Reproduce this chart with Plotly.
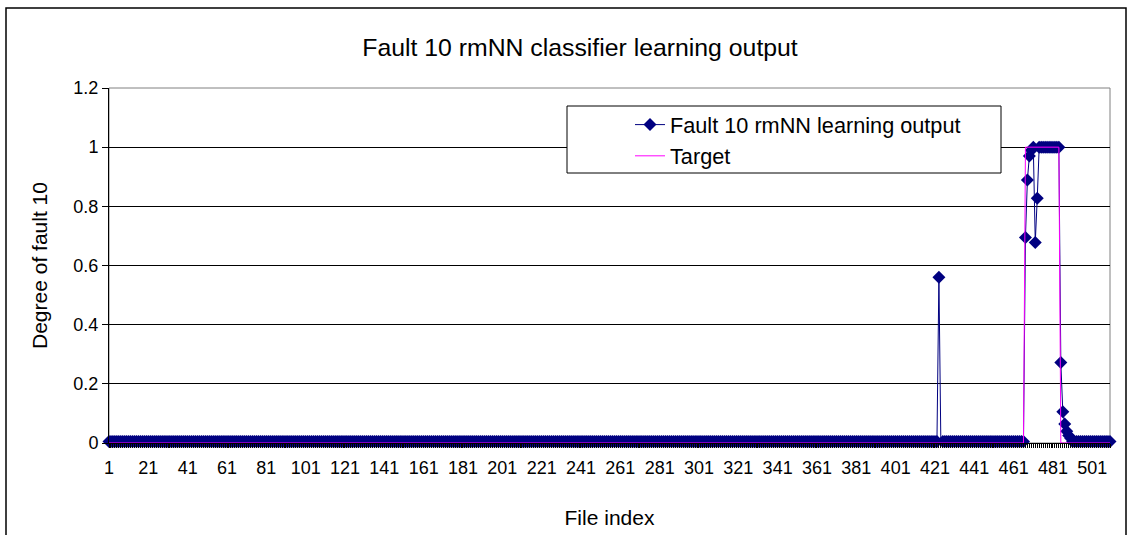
import plotly.graph_objects as go

# file indices 1..510
n_files = 510
file_index = list(range(1, n_files + 1))

# classifier learning output (flat runs near zero)
base = 0.005
learning_output = ([base] * 422
                   + [0.56, -0.006]                       # 423-424 spike
                   + [base] * 42                          # 425-466
                   + [0.695, 0.889, 0.97, 0.99, 1.0,      # 467-471
                      0.678, 0.827]                       # 472-473
                   + [1.0] * 11                           # 474-484
                   + [0.272, 0.106, 0.064, 0.04, 0.025, 0.016]  # 485-490
                   + [base] * 20)                         # 491-510

# target: 1 for files 467-484, 0 elsewhere
target = [0] * 466 + [1] * 18 + [0] * 26

x_ticks = list(range(1, 502, 20))

W, H = 1130, 535
L, R, T, B = 109, 1110, 88, 443   # plot area in px


def px_x(v):
    return (v - L) / (R - L)


def px_y(v):
    return (B - v) / (B - T)


fig = go.Figure()
fig.add_trace(go.Scatter(
    x=file_index, y=learning_output, mode='lines+markers',
    name='Fault 10 rmNN learning output',
    line=dict(color='#000080', width=1),
    marker=dict(symbol='diamond', size=10, color='#000080'),
    cliponaxis=False))
fig.add_trace(go.Scatter(
    x=file_index, y=target, mode='lines', name='Target',
    line=dict(color='#FF00FF', width=1)))

shapes = [
    # chart border
    dict(type='rect', xref='paper', yref='paper', x0=px_x(6), x1=px_x(1126),
         y0=px_y(545), y1=px_y(8), line=dict(color='black', width=1.5)),
    # plot area border
    dict(type='rect', xref='paper', yref='paper', x0=0, x1=1, y0=0, y1=1,
         line=dict(color='#808080', width=1), layer='below'),
    # legend box
    dict(type='rect', xref='paper', yref='paper', x0=px_x(567), x1=px_x(1001),
         y0=px_y(173), y1=px_y(106), line=dict(color='black', width=1),
         fillcolor='white', layer='above'),
]

fig.update_layout(
    width=W, height=H,
    margin=dict(l=L, r=W - R, t=T, b=H - B),
    paper_bgcolor='white', plot_bgcolor='white',
    font=dict(family='Liberation Sans, Arial, sans-serif', color='black'),
    title=dict(text='Fault 10 rmNN classifier learning output',
               x=580 / W, xref='container', xanchor='center',
               y=1 - 47 / H, yref='container', yanchor='middle',
               font=dict(size=24.8)),
    showlegend=True,
    legend=dict(x=px_x(630), y=px_y(104), xanchor='left', yanchor='top',
                bgcolor='rgba(0,0,0,0)', borderwidth=0,
                font=dict(size=21.7)),
    shapes=shapes,
)
fig.update_xaxes(
    range=[1, n_files], tickmode='array', tickvals=x_ticks,
    ticks='outside', ticklen=4, tickcolor='black',
    showline=True, linecolor='black', linewidth=1,
    showgrid=False, zeroline=False,
    tickfont=dict(size=18), ticklabelstandoff=4,
    minor=dict(dtick=1, tick0=1, ticks='outside', ticklen=4, tickcolor='black', showgrid=False),
    title=dict(text='File index', font=dict(size=21), standoff=33),
    automargin=False)
fig.update_yaxes(
    range=[0, 1.2], dtick=0.2,
    ticks='outside', ticklen=6, tickcolor='black',
    showline=True, linecolor='black', linewidth=1,
    showgrid=True, gridcolor='black', gridwidth=1, zeroline=False,
    tickfont=dict(size=18),
    title=dict(text='Degree of fault 10', font=dict(size=21), standoff=20),
    automargin=False)

fig.write_html('out.html', config={'displayModeBar': False},
               post_script="document.body.style.margin='0';")
